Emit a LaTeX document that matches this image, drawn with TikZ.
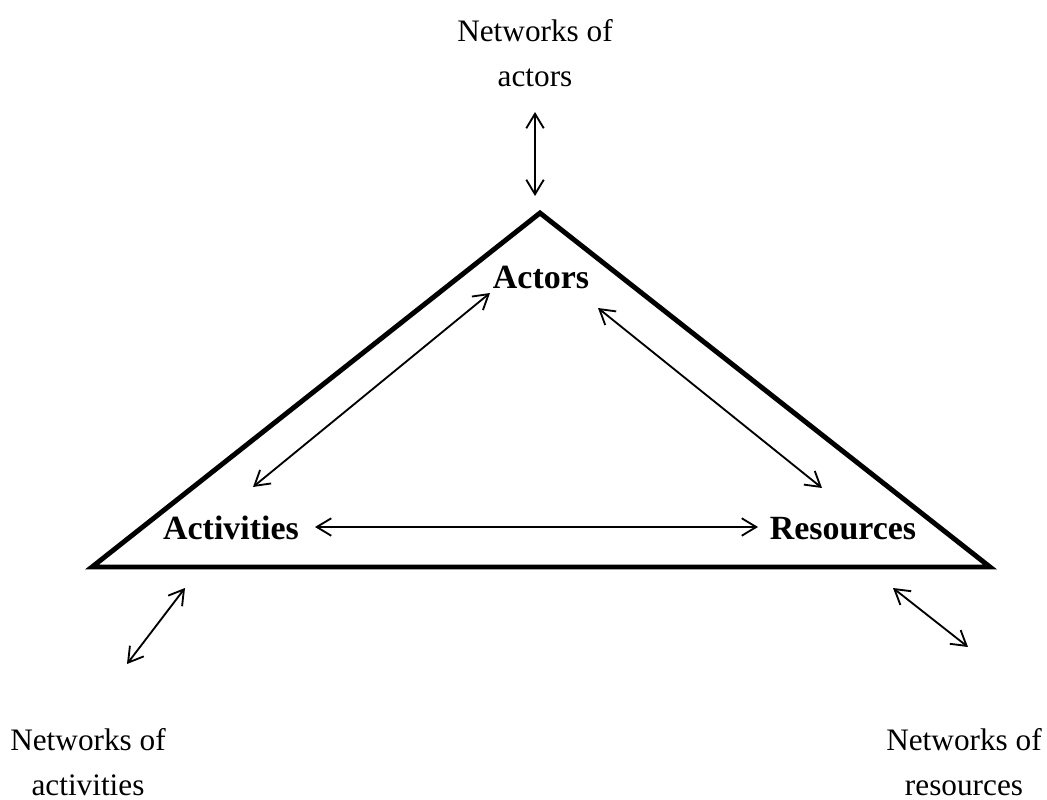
\documentclass[tikz,border=0pt]{standalone}
\usepackage{fontspec}
\setmainfont{Liberation Serif}
\usetikzlibrary{arrows.meta}
\begin{document}
\begin{tikzpicture}[x=0.02cm,y=-0.02cm,
  lbl/.style={font=\fontsize{17.8}{26}\selectfont, align=center, inner sep=0pt},
  corner/.style={font=\fontsize{19.3}{26}\selectfont\bfseries, inner sep=0pt},
  link/.style={line width=1.05pt, {Straight Barb[length=2.9mm,width=3.5mm]}-{Straight Barb[length=2.9mm,width=3.5mm]}},
  frame/.style={line width=2.8pt, line join=miter}]
\useasboundingbox (0,0) rectangle (1047,800);
% triangle of the three layers
\coordinate (apex) at (540,213);
\coordinate (lft) at (92,567);
\coordinate (rgt) at (990,567);
\draw[frame] (apex) -- (rgt) -- (lft) -- cycle;
% layer labels
\node[corner] (act) at (541,277) {Actors};
\node[corner] (acv) at (231,528) {Activities};
\node[corner] (res) at (843,529) {Resources};
% surrounding networks
\node[lbl] (netact) at (535,53) {Networks of\\actors};
\node[lbl] (netacv) at (88,762) {Networks of\\activities};
\node[lbl] (netres) at (964,762) {Networks of\\resources};
% arrow end points
\coordinate (a1) at (535,112); \coordinate (a2) at (535,196);
\coordinate (b1) at (490,293); \coordinate (b2) at (253,487);
\coordinate (c1) at (598,308); \coordinate (c2) at (822,488);
\coordinate (d1) at (315,527); \coordinate (d2) at (758,527);
\coordinate (e1) at (185,588); \coordinate (e2) at (127,664);
\coordinate (f1) at (893,588); \coordinate (f2) at (968,647);
\draw[link] (a1) -- (a2);
\draw[link] (b1) -- (b2);
\draw[link] (c1) -- (c2);
\draw[link] (d1) -- (d2);
\draw[link] (e1) -- (e2);
\draw[link] (f1) -- (f2);
\end{tikzpicture}
\end{document}
